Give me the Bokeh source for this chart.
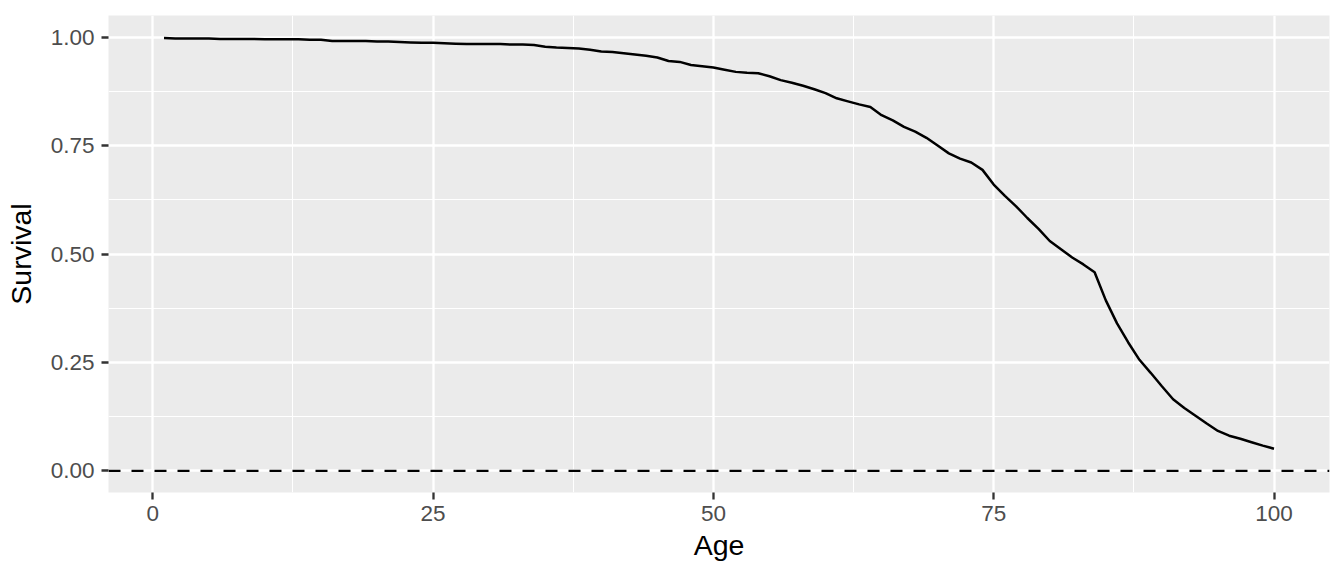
from bokeh.plotting import figure
from bokeh.models import Range1d, FixedTicker, Span, NumeralTickFormatter
from bokeh.embed import file_html
from bokeh.resources import INLINE

# ---- data ----
age = list(range(1, 101))
survival = [
    0.998, 0.997, 0.997, 0.997, 0.997, 0.996, 0.996, 0.996, 0.996, 0.995,
    0.995, 0.995, 0.995, 0.994, 0.994, 0.991, 0.991, 0.991, 0.991, 0.990,
    0.990, 0.989, 0.988, 0.987, 0.987, 0.986, 0.985, 0.984, 0.984, 0.984,
    0.984, 0.983, 0.983, 0.982, 0.978, 0.976, 0.975, 0.974, 0.971, 0.967,
    0.966, 0.963, 0.960, 0.957, 0.953, 0.945, 0.943, 0.936, 0.933, 0.930,
    0.925, 0.920, 0.918, 0.917, 0.910, 0.901, 0.895, 0.888, 0.880, 0.871,
    0.859, 0.852, 0.845, 0.839, 0.820, 0.808, 0.793, 0.782, 0.768, 0.750,
    0.732, 0.720, 0.711, 0.694, 0.660, 0.634, 0.610, 0.583, 0.558, 0.530,
    0.511, 0.492, 0.476, 0.458, 0.393, 0.340, 0.296, 0.256, 0.226, 0.195,
    0.165, 0.145, 0.127, 0.109, 0.092, 0.081, 0.074, 0.066, 0.058, 0.051,
]
x_ticks = [0, 25, 50, 75, 100]
x_minor = [12.5, 37.5, 62.5, 87.5]
y_ticks = [0.0, 0.25, 0.5, 0.75, 1.0]
y_minor = [0.125, 0.375, 0.625, 0.875]
ref_level = 0.0

FONT = "Liberation Sans"

xpad = (max(age) - min(age)) * 0.05
ypad = (1.0 - 0.0) * 0.05

p = figure(width=1344, height=576, output_backend="svg", toolbar_location=None,
           x_range=Range1d(min(age) - xpad, max(age) + xpad),
           y_range=Range1d(0.0 - ypad, 1.0 + ypad),
           min_border_left=108, min_border_right=15,
           min_border_top=15, min_border_bottom=84)

p.background_fill_color = "#EBEBEB"
p.border_fill_color = "white"
p.outline_line_color = None

p.xaxis.ticker = FixedTicker(ticks=x_ticks, minor_ticks=x_minor)
p.yaxis.ticker = FixedTicker(ticks=y_ticks, minor_ticks=y_minor)
p.yaxis.formatter = NumeralTickFormatter(format="0.00")

for g in (p.xgrid, p.ygrid):
    g.grid_line_color = "white"
    g.grid_line_width = 2.3
    g.minor_grid_line_color = "white"
    g.minor_grid_line_width = 1.1

for ax in (p.xaxis, p.yaxis):
    ax.axis_line_color = None
    ax.major_tick_line_color = "#333333"
    ax.major_tick_line_width = 2.3
    ax.major_tick_out = 7
    ax.major_tick_in = 0
    ax.minor_tick_line_color = None
    ax.major_label_text_font = FONT
    ax.major_label_text_font_size = "22.5px"
    ax.major_label_text_color = "#4D4D4D"
    ax.axis_label_text_font = FONT
    ax.axis_label_text_font_size = "28.5px"
    ax.axis_label_text_font_style = "normal"
    ax.axis_label_text_color = "black"

p.xaxis.axis_label = "Age"
p.yaxis.axis_label = "Survival"
p.xaxis.major_label_standoff = 6
p.yaxis.major_label_standoff = 7
p.xaxis.axis_label_standoff = 5
p.yaxis.axis_label_standoff = 11

p.line(age, survival, line_color="black", line_width=2.5)
p.add_layout(Span(location=ref_level, dimension="width", line_color="black",
                  line_dash="12 11", line_width=2.3))

open("out.html", "w").write(file_html(p, INLINE))
